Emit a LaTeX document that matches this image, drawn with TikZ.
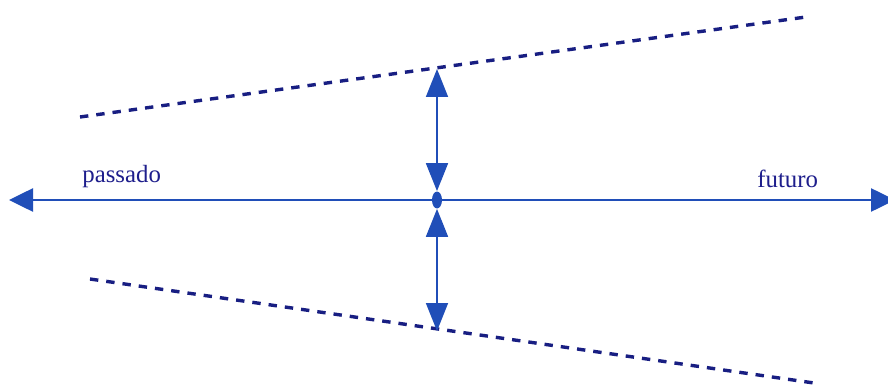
\documentclass[tikz,border=0pt]{standalone}
\usepackage{fontspec}
\setmainfont{Liberation Serif}
\usepackage{xcolor}
\usetikzlibrary{shapes.geometric, arrows.meta, positioning, calc}
\definecolor{arrowblue}{RGB}{32,78,184}
\definecolor{navyline}{RGB}{24,30,130}
\definecolor{labelnavy}{RGB}{30,30,140}

\begin{document}
\begin{tikzpicture}[x=0.5pt, y=-0.5pt,
  timeline/.style={arrowblue, line width=1.3pt, {Triangle[length=12pt,width=11.5pt]}-{Triangle[length=12pt,width=11.5pt]}},
  vertarrow/.style={arrowblue, line width=0.9pt, {Triangle[length=14pt,width=11pt]}-{Triangle[length=14pt,width=11pt]}},
  horizon/.style={navyline, line width=1.7pt, dash pattern=on 4.2pt off 4pt},
  timelabel/.style={labelnavy, font=\fontsize{12.4}{14}\selectfont, inner sep=0pt}]
\useasboundingbox (0,0) rectangle (888,385);
\fill[white] (0,0) rectangle (888,385);

% time axis
\coordinate (west) at (9,200);
\coordinate (east) at (895,200);
\draw[timeline] (west) -- (east);
\node[ellipse, fill=arrowblue, minimum width=5pt, minimum height=8.5pt, inner sep=0pt] (now) at (437,200) {};

\node[timelabel, anchor=base west] (past) at (82,182) {passado};
\node[timelabel, anchor=base west] (future) at (757,187) {futuro};

% diverging dashed lines
\coordinate (pastup) at (80,117);
\coordinate (futup) at (806,17);
\coordinate (pastlow) at (90,279);
\coordinate (futlow) at (814,383);
\draw[horizon] (pastup) -- (futup);
\draw[horizon] (pastlow) -- (futlow);

% vertical arrows to the dashed lines
\coordinate (top) at (437,69);
\coordinate (bottom) at (437,331);
\draw[vertarrow] (top) -- (now);
\draw[vertarrow] (now) -- (bottom);
\end{tikzpicture}
\end{document}
